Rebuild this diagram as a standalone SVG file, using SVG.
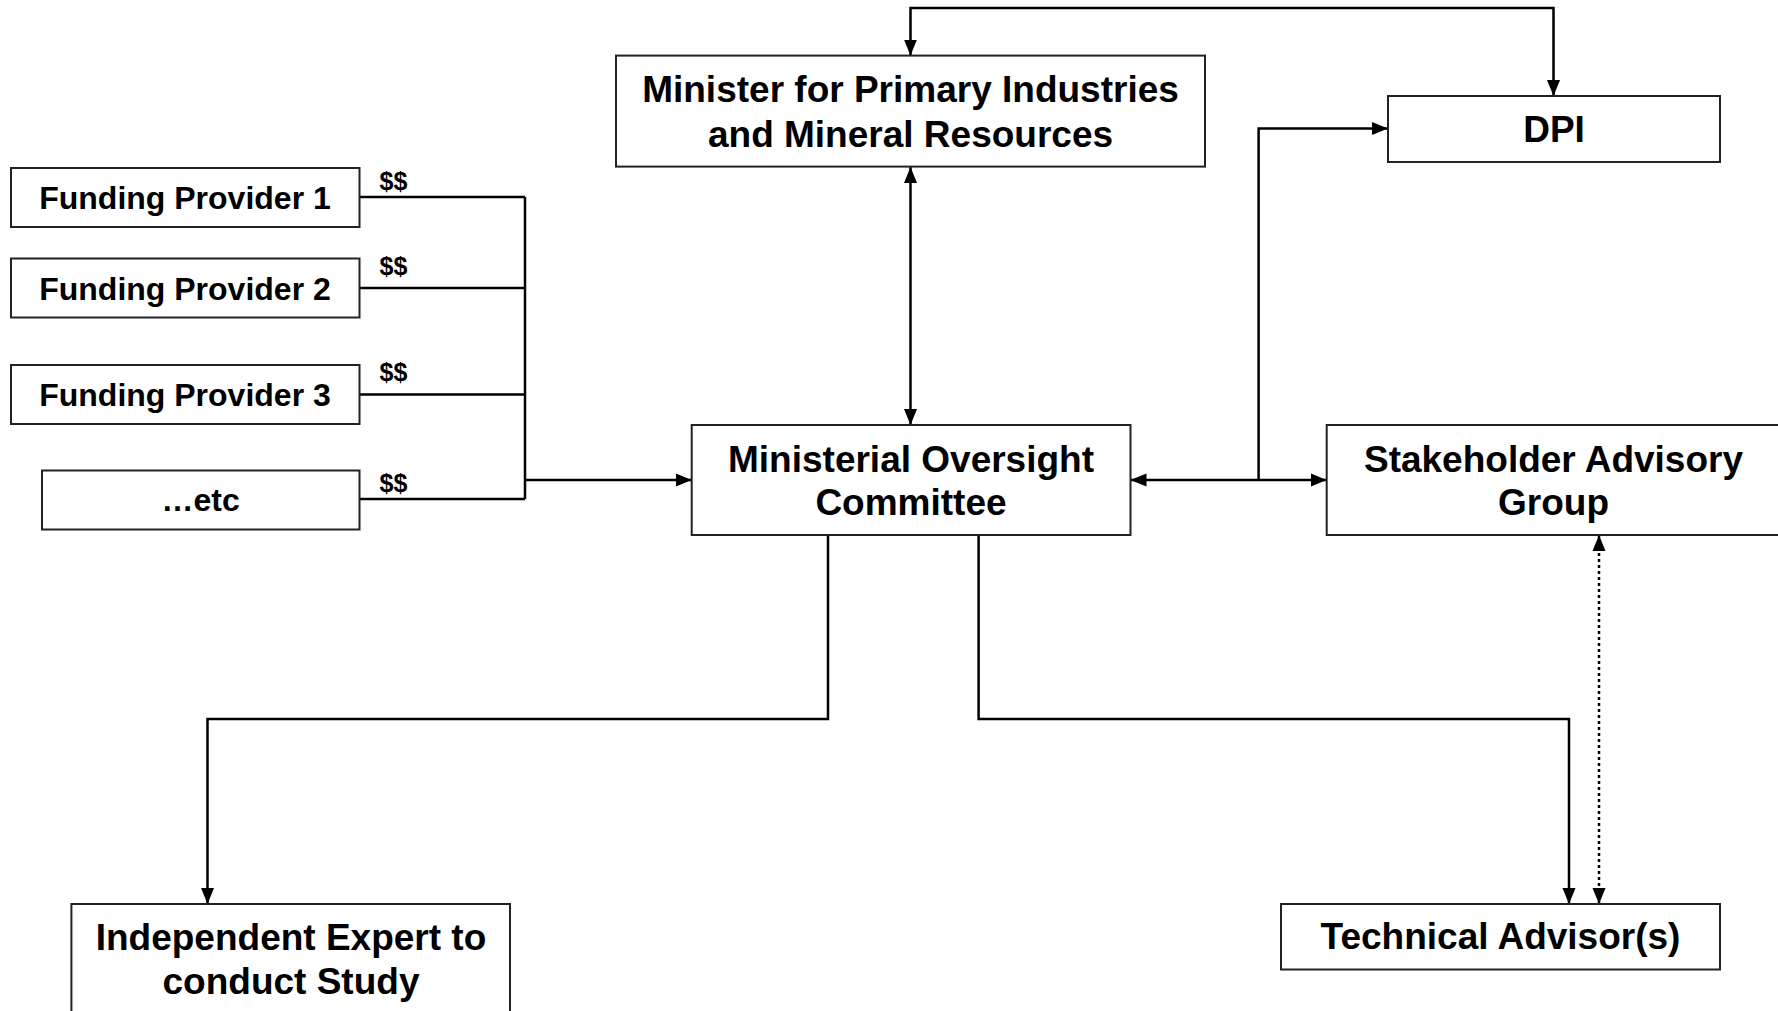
<svg xmlns="http://www.w3.org/2000/svg" width="1778" height="1011" viewBox="0 0 1778 1011">
<style>
.box{fill:#fff;stroke:#222;stroke-width:2}
.t{font-family:"Liberation Sans",Arial,sans-serif;font-weight:bold;fill:#000;text-anchor:middle}
.big{font-size:37px}
.fp{font-size:32px}
.dl{font-size:25px}
.ln{fill:none;stroke:#000;stroke-width:2.5}
.dot{stroke-dasharray:3 3}
</style>
<defs>
<marker id="ah" markerUnits="userSpaceOnUse" markerWidth="16" markerHeight="16" viewBox="0 0 16 16" refX="16" refY="8" orient="auto-start-reverse">
<path d="M0,1.5 L16,8 L0,14.5 Z" fill="#000"/>
</marker>
</defs>
<rect width="1778" height="1011" fill="#fff"/>
<g id="connectors">
<path class="ln" d="M910.5,55.6 V8 H1553.5 V96" marker-start="url(#ah)" marker-end="url(#ah)"/>
<path class="ln" d="M910.5,167 V425" marker-start="url(#ah)" marker-end="url(#ah)"/>
<path class="ln" d="M359.5,197 H525 M359.5,288 H525 M359.5,394.5 H525 M359.5,499 H525 M525,197 V499"/>
<path class="ln" d="M525,480 H691.7" marker-end="url(#ah)"/>
<path class="ln" d="M1130.5,480 H1326.7" marker-start="url(#ah)" marker-end="url(#ah)"/>
<path class="ln" d="M1258.6,480 V128.5 H1388" marker-end="url(#ah)"/>
<path class="ln" d="M828,535 V719 H207.5 V904" marker-end="url(#ah)"/>
<path class="ln" d="M978.6,535 V719 H1569 V904" marker-end="url(#ah)"/>
<path class="ln dot" d="M1599,535 V904" marker-start="url(#ah)" marker-end="url(#ah)"/>
<text class="t dl" x="393.5" y="189.5">$$</text>
<text class="t dl" x="393.5" y="275">$$</text>
<text class="t dl" x="393.5" y="380.5">$$</text>
<text class="t dl" x="393.5" y="491.5">$$</text>
</g>
<g id="minister">
<rect class="box" x="616" y="55.6" width="589" height="111"/>
<text class="t big" x="910.5" y="102">Minister for Primary Industries</text>
<text class="t big" x="910.5" y="147">and Mineral Resources</text>
</g>
<g id="dpi">
<rect class="box" x="1388" y="96" width="332" height="66"/>
<text class="t big" x="1554" y="141.5">DPI</text>
</g>
<g id="fp1">
<rect class="box" x="11" y="168" width="348.5" height="59"/>
<text class="t fp" x="185" y="208.5">Funding Provider 1</text>
</g>
<g id="fp2">
<rect class="box" x="11" y="258.5" width="348.5" height="59"/>
<text class="t fp" x="185" y="299.5">Funding Provider 2</text>
</g>
<g id="fp3">
<rect class="box" x="11" y="365" width="348.5" height="59"/>
<text class="t fp" x="185" y="406">Funding Provider 3</text>
</g>
<g id="etc">
<rect class="box" x="42" y="470.5" width="317.5" height="59"/>
<text class="t fp" x="200.7" y="511">…etc</text>
</g>
<g id="moc">
<rect class="box" x="691.7" y="425" width="438.8" height="110"/>
<text class="t big" x="911" y="471.5">Ministerial Oversight</text>
<text class="t big" x="911" y="514.5">Committee</text>
</g>
<g id="sag">
<rect class="box" x="1326.7" y="425" width="470" height="110"/>
<text class="t big" x="1553.5" y="471.5">Stakeholder Advisory</text>
<text class="t big" x="1553.5" y="514.5">Group</text>
</g>
<g id="ta">
<rect class="box" x="1281" y="904" width="439" height="65.5"/>
<text class="t big" x="1500.5" y="949">Technical Advisor(s)</text>
</g>
<g id="ie">
<rect class="box" x="71.4" y="904" width="438.6" height="120"/>
<text class="t big" x="291" y="950">Independent Expert to</text>
<text class="t big" x="291" y="994">conduct Study</text>
</g>
</svg>
